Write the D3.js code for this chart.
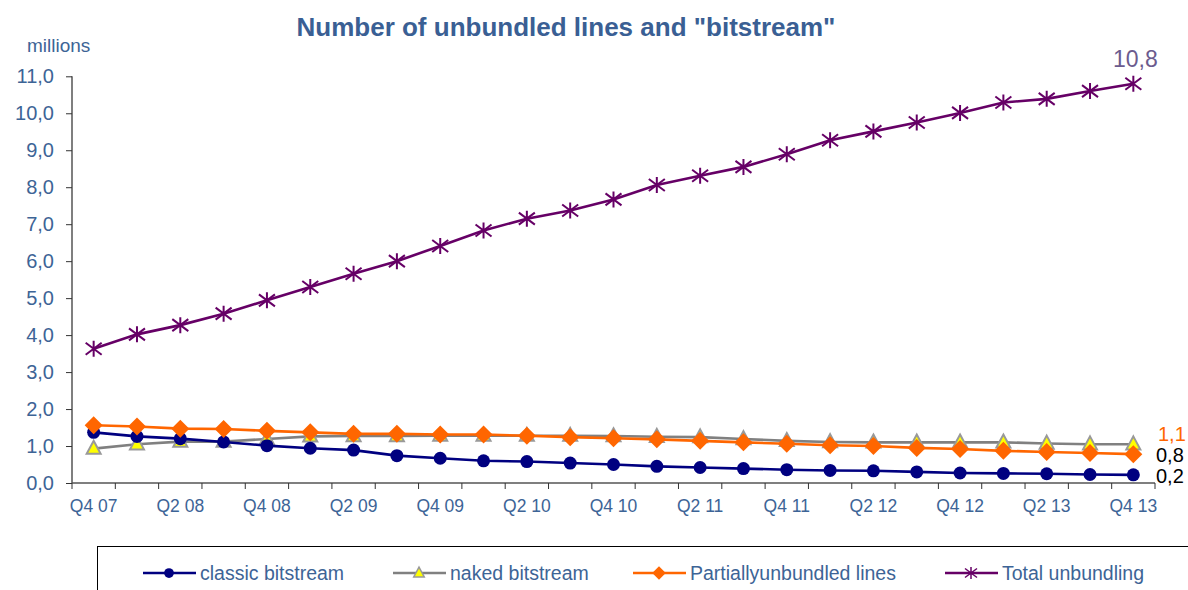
<!DOCTYPE html>
<html>
<head>
<meta charset="utf-8">
<script src="https://cdn.jsdelivr.net/npm/d3@7"></script>
<style>
  html, body { margin: 0; padding: 0; background: #fff; }
  svg { display: block; font-family: "Liberation Sans", Arial, sans-serif; }
</style>
</head>
<body>
<svg id="chart" width="1188" height="590"></svg>
<script>
// Quarters from Q4 2007 to Q4 2013
const quarters = ["Q4 07","Q1 08","Q2 08","Q3 08","Q4 08","Q1 09","Q2 09","Q3 09","Q4 09",
  "Q1 10","Q2 10","Q3 10","Q4 10","Q1 11","Q2 11","Q3 11","Q4 11",
  "Q1 12","Q2 12","Q3 12","Q4 12","Q1 13","Q2 13","Q3 13","Q4 13"];

// Values in millions of lines
const classicBitstream = [1.37,1.26,1.20,1.11,1.01,0.94,0.89,0.74,0.67,0.60,0.58,0.54,0.50,0.45,0.42,0.39,0.36,0.34,0.33,0.30,0.27,0.26,0.25,0.23,0.22];
const nakedBitstream   = [0.93,1.05,1.12,1.12,1.19,1.26,1.27,1.27,1.28,1.28,1.28,1.28,1.27,1.25,1.24,1.19,1.14,1.11,1.10,1.10,1.10,1.10,1.07,1.05,1.05];
const partialUnbundled = [1.56,1.53,1.47,1.46,1.41,1.37,1.33,1.33,1.31,1.31,1.28,1.24,1.21,1.18,1.14,1.10,1.06,1.02,1.00,0.95,0.92,0.87,0.84,0.81,0.78];
const totalUnbundling  = [3.63,4.02,4.27,4.58,4.94,5.30,5.66,6.00,6.41,6.83,7.15,7.37,7.67,8.06,8.31,8.55,8.89,9.27,9.51,9.75,10.01,10.29,10.39,10.60,10.80];

const yTicks = [0,1,2,3,4,5,6,7,8,9,10,11];
const xLabelEvery = 2;

const svg = d3.select("#chart");
const textBlue = "#3d6496";
const fmt = v => d3.format(".1f")(v).replace(".", ",");

const plot = { left: 72, right: 1155, top: 76.3, bottom: 483 };

const x = d3.scaleBand().domain(quarters).range([plot.left, plot.right]);
const y = d3.scaleLinear().domain([0, 11]).range([plot.bottom, plot.top]);
const cx = q => x(q) + x.bandwidth() / 2;

// Title
svg.append("text")
  .attr("x", 566).attr("y", 36)
  .attr("text-anchor", "middle")
  .attr("font-size", 26).attr("font-weight", "bold")
  .attr("fill", "#3a5f94")
  .text('Number of unbundled lines and "bitstream"');

// Unit label
svg.append("text")
  .attr("x", 27).attr("y", 52)
  .attr("font-size", 19).attr("fill", textBlue)
  .text("millions");

// Y axis
const yAxis = svg.append("g")
  .attr("transform", `translate(${plot.left},0)`)
  .call(d3.axisLeft(y).tickValues(yTicks).tickSize(6).tickPadding(12).tickFormat(fmt));
yAxis.select(".domain").attr("stroke", "#555").attr("stroke-width", 1.5).attr("d", `M0,${plot.top}V${plot.bottom}`);
yAxis.selectAll(".tick line").attr("stroke", "#333");
yAxis.selectAll(".tick text").attr("font-size", 20).attr("fill", textBlue)
  .attr("font-family", "Liberation Sans, Arial, sans-serif");

// X axis: tick marks at category boundaries, labels on every other quarter
const xAxisG = svg.append("g").attr("transform", `translate(0,${plot.bottom})`);
xAxisG.append("line")
  .attr("x1", plot.left).attr("x2", plot.right)
  .attr("stroke", "#555").attr("stroke-width", 1.5);
const boundaries = quarters.map(q => x(q)).concat([plot.right]);
xAxisG.selectAll("line.tick").data(boundaries).join("line")
  .attr("class", "tick")
  .attr("x1", d => d).attr("x2", d => d)
  .attr("y1", 0).attr("y2", 6)
  .attr("stroke", "#333");
xAxisG.selectAll("text").data(quarters.filter((q, i) => i % xLabelEvery === 0)).join("text")
  .attr("x", d => cx(d)).attr("y", 29)
  .attr("text-anchor", "middle")
  .attr("font-size", 17.5).attr("fill", textBlue)
  .text(d => d);

// Series definitions
const series = [
  { name: "classic bitstream", values: classicBitstream, color: "#000080", marker: "circle" },
  { name: "naked bitstream", values: nakedBitstream, color: "#808080", marker: "triangle" },
  { name: "Partiallyunbundled lines", values: partialUnbundled, color: "#ff6600", marker: "diamond" },
  { name: "Total unbundling", values: totalUnbundling, color: "#660066", marker: "star" }
];

function drawMarker(g, type, color, px, py, s) {
  if (type === "circle") {
    g.append("circle").attr("cx", px).attr("cy", py).attr("r", 6.5 * s).attr("fill", color);
  } else if (type === "triangle") {
    const h = 13 * s, w = 14 * s;
    g.append("path")
      .attr("d", `M${px},${py - h * 0.6}L${px + w / 2},${py + h * 0.4}L${px - w / 2},${py + h * 0.4}Z`)
      .attr("fill", "#ffff00").attr("stroke", "#999999").attr("stroke-width", 2 * s);
  } else if (type === "diamond") {
    const r = 9 * s;
    g.append("path")
      .attr("d", `M${px},${py - r}L${px + r},${py}L${px},${py + r}L${px - r},${py}Z`)
      .attr("fill", color);
  } else if (type === "star") {
    const r = 8 * s;
    const d = `M${px - r},${py - r * 0.75}L${px + r},${py + r * 0.75}` +
              `M${px - r},${py + r * 0.75}L${px + r},${py - r * 0.75}` +
              `M${px},${py - r}L${px},${py + r}`;
    g.append("path").attr("d", d).attr("stroke", color).attr("stroke-width", 2 * s).attr("fill", "none");
  }
}

const line = d3.line().x(d => cx(d.q)).y(d => y(d.v));

// Draw in back-to-front order so total sits on top of the small series
const drawOrder = [1, 0, 2, 3];
drawOrder.forEach(i => {
  const s = series[i];
  const data = quarters.map((q, j) => ({ q, v: s.values[j] }));
  const g = svg.append("g");
  g.append("path").datum(data)
    .attr("d", line)
    .attr("fill", "none")
    .attr("stroke", s.color)
    .attr("stroke-width", 2.6);
  data.forEach(d => drawMarker(g, s.marker, s.color, cx(d.q), y(d.v), 1));
});

// End value labels
const lastQ = quarters[quarters.length - 1];
svg.append("text")
  .attr("x", cx(lastQ) + 2).attr("y", y(totalUnbundling[totalUnbundling.length - 1]) - 17)
  .attr("text-anchor", "middle")
  .attr("font-size", 23).attr("fill", "#6b5b8e")
  .text(fmt(totalUnbundling[totalUnbundling.length - 1]));

const endLabels = [
  { v: nakedBitstream[nakedBitstream.length - 1], color: "#ff6600", dy: -3.5, dx: 1158 },
  { v: partialUnbundled[partialUnbundled.length - 1], color: "#000000", dy: 8, dx: 1156 },
  { v: classicBitstream[classicBitstream.length - 1], color: "#000000", dy: 8, dx: 1156 }
];
svg.selectAll("text.endlabel").data(endLabels).join("text")
  .attr("class", "endlabel")
  .attr("x", d => d.dx)
  .attr("y", d => y(d.v) + d.dy)
  .attr("font-size", 20)
  .attr("fill", d => d.color)
  .text(d => fmt(d.v));

// Legend
const legend = svg.append("g");
legend.append("rect")
  .attr("x", 97.5).attr("y", 546.5)
  .attr("width", 1100).attr("height", 60)
  .attr("fill", "#fff").attr("stroke", "#000").attr("stroke-width", 1);

const legendX = [143, 393, 633, 945];
series.forEach((s, i) => {
  const lx = legendX[i], ly = 573;
  const g = legend.append("g");
  g.append("line").attr("x1", lx).attr("x2", lx + 53).attr("y1", ly).attr("y2", ly)
    .attr("stroke", s.color).attr("stroke-width", 2.6);
  drawMarker(g, s.marker, s.color, lx + 26, ly, 0.75);
  g.append("text").attr("x", lx + 57).attr("y", ly + 7)
    .attr("font-size", 19.5).attr("fill", textBlue)
    .text(s.name);
});
</script>
</body>
</html>
